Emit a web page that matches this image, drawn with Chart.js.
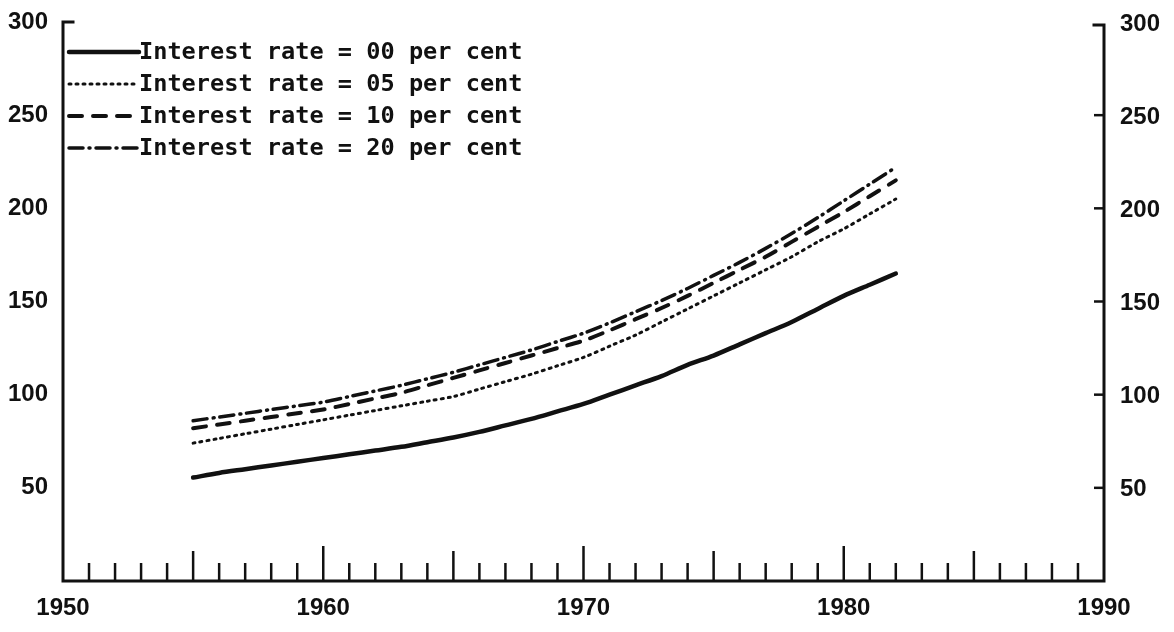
<!DOCTYPE html>
<html>
<head>
<meta charset="utf-8">
<script src="https://cdn.jsdelivr.net/npm/chart.js@4/dist/chart.umd.min.js"></script>
<style>
  html, body { margin: 0; background: #fff; }
  #wrap { width: 1174px; height: 632px; }
</style>
</head>
<body>
<div id="wrap"><canvas id="chart"></canvas></div>
<script>
// values
const years = [1955,1956,1957,1958,1959,1960,1961,1962,1963,1964,1965,1966,1967,1968,
               1969,1970,1971,1972,1973,1974,1975,1976,1977,1978,1979,1980,1981,1982];
const rate00 = [55.5,58,60,62,64,66,68,70,72,74.5,77,80,83.5,87,91,95,100,105,110,116,121,127,133,139,146,153,159,165];
const rate05 = [74,76.5,79,81.5,84,86.5,89,91.5,94,96.5,99,103,107,111,115.5,120,126,132,139,146,153,160,167,174,182,189,197,205];
const rate10 = [82,84,86,88,90,92,95,98,101,105,109,113,117,121,125,129,134.5,140.5,146.5,153,160,167,174,182,190,198,206.5,215];
const rate20 = [86,88,90,92,94,96,99,102,105,108.5,112,116,120,124,128.5,133,138.5,144.5,150.5,157,164,171,178.5,186.5,195,204,213,222];
const seriesLabels = ['Interest rate = 00 per cent', 'Interest rate = 05 per cent',
                      'Interest rate = 10 per cent', 'Interest rate = 20 per cent'];
const yTickLabels = [50, 100, 150, 200, 250, 300];
const xTickLabels = [1950, 1960, 1970, 1980, 1990];

const ink = '#111';
const numFont = 'bold 24px "Liberation Sans"';
const legendFont = 'bold 23.6px "DejaVu Sans Mono"';

function pts(vals) {
  return years.map((yr, i) => ({ x: yr, y: vals[i] }));
}

// axes, ticks, labels and the legend, drawn from the chart's own scales
const framePlugin = {
  id: 'frame',
  afterDraw(chart) {
    const ctx = chart.ctx;
    const xs = chart.scales.x, ys = chart.scales.y;
    const L = xs.getPixelForValue(1950), R = xs.getPixelForValue(1990);
    const B = ys.getPixelForValue(0), T = ys.getPixelForValue(300);
    ctx.save();
    ctx.strokeStyle = ink;
    ctx.fillStyle = ink;
    ctx.lineWidth = 3;
    ctx.lineCap = 'square';
    ctx.beginPath();
    ctx.moveTo(L + 10, T); ctx.lineTo(L, T); ctx.lineTo(L, B);
    ctx.lineTo(R, B); ctx.lineTo(R, T + 3); ctx.lineTo(R - 10, T + 3);
    ctx.stroke();

    // year ticks pointing up into the plot
    ctx.lineWidth = 2.5;
    ctx.lineCap = 'butt';
    for (let yr = 1951; yr < 1990; yr++) {
      const len = yr % 10 === 0 ? 35 : (yr % 5 === 0 ? 30 : 18);
      const px = xs.getPixelForValue(yr);
      ctx.beginPath(); ctx.moveTo(px, B); ctx.lineTo(px, B - len); ctx.stroke();
    }
    // right axis ticks
    yTickLabels.forEach(v => {
      if (v === 300) return;
      const py = ys.getPixelForValue(v);
      ctx.beginPath(); ctx.moveTo(R, py); ctx.lineTo(R - 10, py); ctx.stroke();
    });

    ctx.font = numFont;
    ctx.textBaseline = 'middle';
    yTickLabels.forEach(v => {
      const py = ys.getPixelForValue(v);
      ctx.textAlign = 'right';
      ctx.fillText(String(v), L - 15, py);
      ctx.textAlign = 'left';
      ctx.fillText(String(v), R + 16, py + 2);
    });
    ctx.textAlign = 'center';
    xTickLabels.forEach(v => {
      ctx.fillText(String(v), xs.getPixelForValue(v), B + 27);
    });

    // legend
    ctx.font = legendFont;
    ctx.textAlign = 'left';
    const rowY = [52, 84, 116, 148];
    chart.data.datasets.forEach((ds, i) => {
      const y = rowY[i];
      ctx.save();
      ctx.lineWidth = ds.borderWidth;
      ctx.lineCap = ds.borderCapStyle || 'butt';
      ctx.setLineDash(ds.borderDash || []);
      ctx.beginPath(); ctx.moveTo(L + 6, y); ctx.lineTo(L + 76, y); ctx.stroke();
      ctx.restore();
      ctx.fillText(ds.label, L + 76, y + 1);
    });
    ctx.restore();
  }
};

new Chart(document.getElementById('chart'), {
  type: 'line',
  data: {
    datasets: [
      { label: seriesLabels[0], data: pts(rate00), borderColor: ink, borderWidth: 4.5, borderCapStyle: 'round' },
      { label: seriesLabels[1], data: pts(rate05), borderColor: ink, borderWidth: 3, borderDash: [2, 5], borderCapStyle: 'round' },
      { label: seriesLabels[2], data: pts(rate10), borderColor: ink, borderWidth: 4, borderDash: [13, 11], borderCapStyle: 'round' },
      { label: seriesLabels[3], data: pts(rate20), borderColor: ink, borderWidth: 3.5, borderDash: [14, 6, 1, 6], borderCapStyle: 'round' }
    ]
  },
  options: {
    responsive: true,
    maintainAspectRatio: false,
    animation: false,
    layout: { padding: { left: 63, right: 70, top: 22, bottom: 51 } },
    elements: { point: { radius: 0 }, line: { tension: 0.3 } },
    scales: {
      x: { type: 'linear', min: 1950, max: 1990, display: false },
      y: { min: 0, max: 300, display: false }
    },
    plugins: { legend: { display: false }, tooltip: { enabled: false } }
  },
  plugins: [framePlugin]
});
</script>
</body>
</html>
